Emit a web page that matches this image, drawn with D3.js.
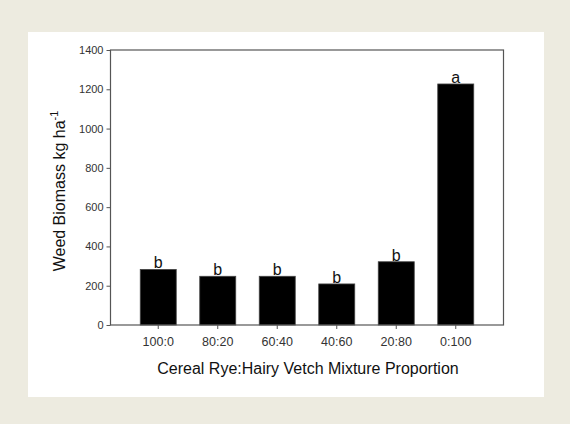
<!DOCTYPE html>
<html>
<head>
<meta charset="utf-8">
<script src="https://cdn.jsdelivr.net/npm/d3@7"></script>
<style>
  html, body { margin: 0; padding: 0; background: #edebe0; }
  svg { display: block; }
  text { font-family: "Liberation Sans", Arial, sans-serif; }
</style>
</head>
<body>
<svg id="chart" width="570" height="424"></svg>
<script>
// Weed biomass by cereal rye : hairy vetch seeding proportion
const proportions = ["100:0", "80:20", "60:40", "40:60", "20:80", "0:100"];
const biomass = [283, 248, 248, 209, 322, 1227];
const groups = ["b", "b", "b", "b", "b", "a"];
const yTicks = [0, 200, 400, 600, 800, 1000, 1200, 1400];

const svg = d3.select("#chart");

// white card behind the plot
svg.append("rect")
  .attr("x", 28).attr("y", 32)
  .attr("width", 516).attr("height", 365)
  .attr("fill", "#ffffff");

const plot = { left: 110.5, right: 503.5, top: 50, bottom: 325 };

const x = d3.scaleBand()
  .domain(proportions)
  .range([plot.left, plot.right])
  .paddingInner(0.395)
  .paddingOuter(0.5);

const y = d3.scaleLinear()
  .domain([0, 1400])
  .range([plot.bottom, plot.top]);

const axisColor = "#555";
const labelColor = "#333";

// bars
svg.append("g")
  .selectAll("rect")
  .data(proportions)
  .join("rect")
  .attr("x", d => x(d))
  .attr("y", (d, i) => y(biomass[i]))
  .attr("width", x.bandwidth())
  .attr("height", (d, i) => y(0) - y(biomass[i]))
  .attr("fill", "#000")
  .attr("stroke", "#444")
  .attr("stroke-width", 0.8);

// significance letters
svg.append("g")
  .selectAll("text")
  .data(proportions)
  .join("text")
  .attr("x", d => x(d) + x.bandwidth() / 2)
  .attr("y", (d, i) => y(biomass[i]) - 1)
  .attr("text-anchor", "middle")
  .attr("font-size", 16)
  .attr("fill", "#111")
  .text((d, i) => groups[i]);

// y axis
const yAxis = svg.append("g")
  .attr("transform", `translate(${plot.left},0)`)
  .call(d3.axisLeft(y).tickValues(yTicks).tickSize(4).tickPadding(3).tickFormat(d3.format("d")));
yAxis.select(".domain").remove();
yAxis.selectAll("line").attr("stroke", axisColor);
yAxis.selectAll("text").attr("font-size", 11).attr("fill", labelColor)
  .attr("font-family", "'Liberation Sans', Arial, sans-serif");

// x axis
const xAxis = svg.append("g")
  .attr("transform", `translate(0,${plot.bottom})`)
  .call(d3.axisBottom(x).tickSize(4).tickPadding(8));
xAxis.select(".domain").remove();
xAxis.selectAll("line").attr("stroke", axisColor);
xAxis.selectAll("text").attr("font-size", 12.5).attr("fill", labelColor)
  .attr("font-family", "'Liberation Sans', Arial, sans-serif");

// frame
svg.append("rect")
  .attr("x", plot.left).attr("y", plot.top)
  .attr("width", plot.right - plot.left)
  .attr("height", plot.bottom - plot.top)
  .attr("fill", "none")
  .attr("stroke", axisColor)
  .attr("stroke-width", 1.2);

// axis titles
svg.append("text")
  .attr("x", (plot.left + plot.right) / 2 + 1)
  .attr("y", 374)
  .attr("text-anchor", "middle")
  .attr("font-size", 16)
  .attr("fill", "#111")
  .text("Cereal Rye:Hairy Vetch Mixture Proportion");

const yTitle = svg.append("text")
  .attr("transform", "translate(65,191) rotate(-90)")
  .attr("text-anchor", "middle")
  .attr("font-size", 16)
  .attr("fill", "#111");
yTitle.append("tspan").text("Weed Biomass kg ha");
yTitle.append("tspan").attr("dy", -7).attr("font-size", 11).text("-1");
</script>
</body>
</html>
